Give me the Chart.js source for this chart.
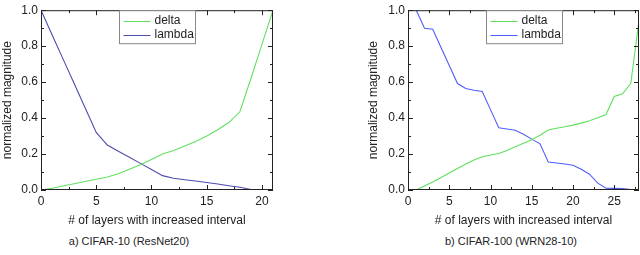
<!DOCTYPE html>
<html>
<head>
<meta charset="utf-8">
<script src="https://cdn.jsdelivr.net/npm/chart.js@4"></script>
<style>
body{margin:0;background:#fff;width:640px;height:255px;position:relative;overflow:hidden;font-family:"Liberation Sans",Arial,sans-serif}
canvas{position:absolute;top:0}
.cap{position:absolute;top:235px;width:200px;text-align:center;font-size:11px;color:#222;white-space:nowrap}
</style>
</head>
<body>
<canvas id="c1" width="300" height="228" style="left:0"></canvas>
<canvas id="c2" width="274" height="228" style="left:366px"></canvas>
<div class="cap" style="left:29px">a) CIFAR-10 (ResNet20)</div>
<div class="cap" style="left:411px">b) CIFAR-100 (WRN28-10)</div>
<script>
// values

const seriesNames = ['delta', 'lambda'];

// a) CIFAR-10 (ResNet20)
const resnetLayers = [0,1,2,3,4,5,6,7,8,9,10,11,12,13,14,15,16,17,18,19,20,21];
const resnetDelta  = [0,0.01,0.022,0.035,0.047,0.06,0.072,0.09,0.115,0.14,0.17,0.2,0.22,0.245,0.27,0.3,0.335,0.375,0.435,0.62,0.81,1.0];
const resnetLambda = [1.0,0.864,0.728,0.592,0.456,0.32,0.25,0.216,0.182,0.148,0.114,0.08,0.065,0.057,0.05,0.042,0.033,0.024,0.015,0.003,0,0];
const resnetXTicks = [0, 5, 10, 15, 20];

// b) CIFAR-100 (WRN28-10)
const wrnLayers = [1,2,3,4,5,6,7,8,9,10,11,12,13,14,15,16,17,18,19,20,21,22,23,24,25,26,27,28];
const wrnDelta  = [0,0.022,0.045,0.07,0.095,0.12,0.145,0.167,0.185,0.195,0.203,0.22,0.24,0.26,0.28,0.305,0.334,0.343,0.352,0.361,0.372,0.385,0.402,0.42,0.52,0.535,0.592,0.944];
const wrnLambda = [1.0,0.9,0.894,0.793,0.692,0.592,0.565,0.555,0.548,0.447,0.346,0.339,0.332,0.31,0.283,0.257,0.156,0.15,0.145,0.138,0.115,0.088,0.038,0.01,0.009,0.008,0.002,0];
const wrnXTicks = [0, 5, 10, 15, 20, 25];

const yTicks = [0, 0.2, 0.4, 0.6, 0.8, 1.0];

const font = {family: '"Liberation Sans", Arial, sans-serif', size: 12};

// box, inward ticks and the boxed legend
const framePlugin = {
  id: 'frame',
  afterDatasetsDraw(chart) {
    const {ctx, chartArea: a, scales: {x, y}} = chart;
    ctx.save();
    ctx.strokeStyle = '#222';
    ctx.lineWidth = 1;
    ctx.strokeRect(a.left + 0.5, a.top + 0.5, a.right - a.left - 1, a.bottom - a.top - 1);
    ctx.beginPath();
    for (let v = 0; v <= x.max + 0.001; v += 2.5) {
      const px = Math.round(x.getPixelForValue(v)) + 0.5;
      const len = v % 5 === 0 ? 5 : 3;
      ctx.moveTo(px, a.bottom); ctx.lineTo(px, a.bottom - len);
      ctx.moveTo(px, a.top); ctx.lineTo(px, a.top + len);
    }
    for (let i = 0; i <= 10; i++) {
      const py = Math.round(y.getPixelForValue(i / 10)) + 0.5;
      const len = i % 2 === 0 ? 5 : 3;
      ctx.moveTo(a.left, py); ctx.lineTo(a.left + len, py);
      ctx.moveTo(a.right, py); ctx.lineTo(a.right - len, py);
    }
    ctx.stroke();

    // legend
    const w = 76, h = 33;
    const bx = Math.round((a.left + a.right) / 2 - w / 2) + 0.5;
    const by = a.top + 0.5;
    ctx.fillStyle = '#fff';
    ctx.fillRect(bx, by, w, h);
    ctx.strokeStyle = '#888';
    ctx.strokeRect(bx, by, w, h);
    ctx.font = '12px "Liberation Sans", Arial, sans-serif';
    ctx.textBaseline = 'middle';
    chart.data.datasets.forEach((ds, i) => {
      const ly = by + 10 + i * 14;
      ctx.strokeStyle = ds.borderColor;
      ctx.beginPath();
      ctx.moveTo(bx + 4, Math.round(ly) + 0.5);
      ctx.lineTo(bx + 31, Math.round(ly) + 0.5);
      ctx.stroke();
      ctx.fillStyle = '#222';
      ctx.fillText(ds.label, bx + 35, ly);
    });
    ctx.restore();
  }
};

function makeChart(id, layers, delta, lambda, xMax, xTicks, colors, yWidth, padRight) {
  const pts = vals => vals.map((v, i) => ({x: layers[i], y: v}));
  return new Chart(document.getElementById(id), {
    type: 'line',
    data: {
      datasets: [
        {label: seriesNames[0], data: pts(delta), borderColor: colors[0], borderWidth: 1.1, pointRadius: 0, tension: 0},
        {label: seriesNames[1], data: pts(lambda), borderColor: colors[1], borderWidth: 1.1, pointRadius: 0, tension: 0}
      ]
    },
    options: {
      responsive: false,
      animation: false,
      layout: {padding: {top: 4, right: padRight, left: 0, bottom: 0}},
      plugins: {legend: {display: false}, tooltip: {enabled: false}},
      scales: {
        x: {
          type: 'linear', min: 0, max: xMax,
          grid: {display: false, drawTicks: false},
          border: {display: false},
          afterBuildTicks: s => { s.ticks = xTicks.map(v => ({value: v})); },
          afterFit: s => { s.height = 38; },
          ticks: {color: '#222', font: font, padding: 4, maxRotation: 0},
          title: {display: true, text: '# of layers with increased interval', color: '#222', font: font, padding: 0}
        },
        y: {
          min: 0, max: 1,
          grid: {display: false, drawTicks: false},
          border: {display: false},
          afterBuildTicks: s => { s.ticks = yTicks.map(v => ({value: v})); },
          afterFit: s => { s.width = yWidth; },
          ticks: {color: '#222', font: font, padding: 3, callback: v => v.toFixed(1)},
          title: {display: true, text: 'normalized magnitude', color: '#222', font: font, padding: 0}
        }
      }
    },
    plugins: [framePlugin]
  });
}

makeChart('c1', resnetLayers, resnetDelta, resnetLambda, 21, resnetXTicks, ['#62e062', '#4c4cb0'], 41, 27);
makeChart('c2', wrnLayers, wrnDelta, wrnLambda, 28, wrnXTicks, ['#5ee05e', '#4e5ef6'], 42, 1);
</script>
</body>
</html>
